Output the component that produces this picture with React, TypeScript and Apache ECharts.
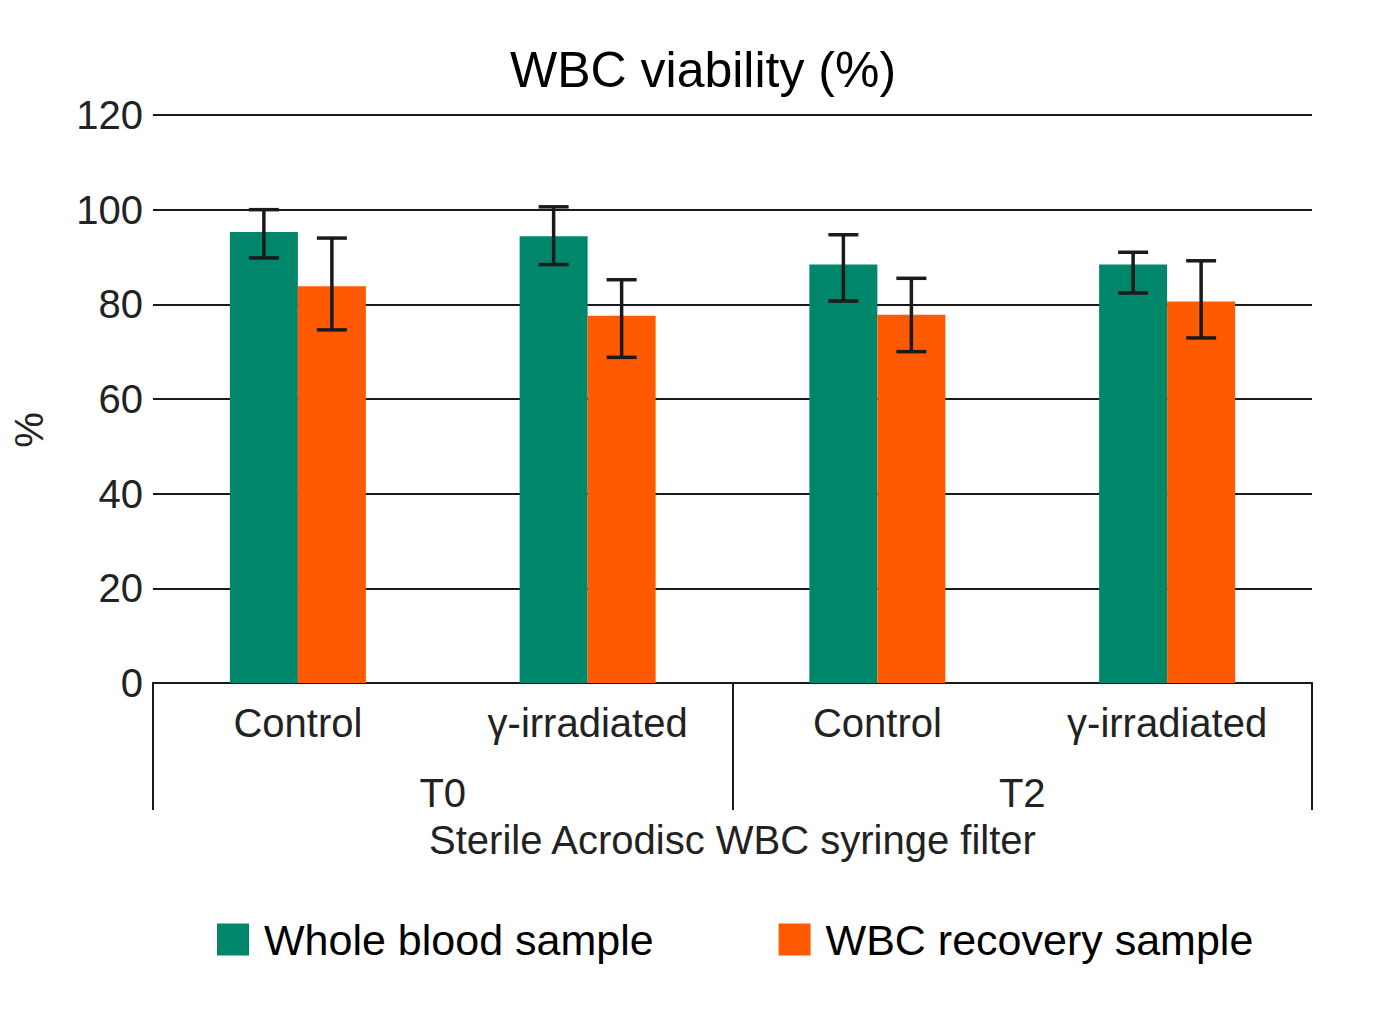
import { useEffect, useRef } from 'react';
import * as echarts from 'echarts';

const categories = ['Control', 'γ-irradiated', 'Control', 'γ-irradiated'];
const groups = ['T0', 'T2'];
const yTicks = [0, 20, 40, 60, 80, 100, 120];

const wholeBlood = [95.3, 94.4, 88.4, 88.4];
const wbcRecovery = [83.8, 77.6, 77.8, 80.6];
// error bar [low, high]
const wholeBloodErr = [[89.8, 100], [88.4, 100.6], [80.7, 94.7], [82.4, 91]];
const wbcRecoveryErr = [[74.6, 94.0], [68.8, 85.2], [70.0, 85.5], [72.9, 89.2]];

const GREEN = '#00876b';
const ORANGE = '#ff5a00';
const INK = '#1a1a1a';
const FONT = "'Liberation Sans', Arial, sans-serif";
const BAR_W = 68;

function errorSeries(errs: number[][], offset: number) {
  return {
    type: 'custom',
    xAxisIndex: 0,
    yAxisIndex: 0,
    silent: true,
    z: 10,
    data: errs.map((e, i) => [i, e[0], e[1]]),
    encode: { x: 0, y: [1, 2] },
    renderItem: (_params: any, api: any) => {
      const idx = api.value(0);
      const lo = api.coord([idx, api.value(1)]);
      const hi = api.coord([idx, api.value(2)]);
      const x = lo[0] + offset;
      const half = 15;
      const style = { stroke: INK, lineWidth: 3.5 };
      return {
        type: 'group',
        children: [
          { type: 'line', shape: { x1: x, y1: hi[1], x2: x, y2: lo[1] }, style },
          { type: 'line', shape: { x1: x - half, y1: hi[1], x2: x + half, y2: hi[1] }, style },
          { type: 'line', shape: { x1: x - half, y1: lo[1], x2: x + half, y2: lo[1] }, style },
        ],
      };
    },
  };
}

export default function App() {
  const ref = useRef<HTMLDivElement>(null);

  useEffect(() => {
    if (!ref.current) return;
    const chart = echarts.init(ref.current, undefined, { renderer: 'svg' });

    chart.setOption({
      animation: false,
      backgroundColor: '#ffffff',
      title: {
        text: 'WBC viability (%)',
        left: 505,
        top: 40,
        textStyle: { fontFamily: FONT, fontSize: 50, fontWeight: 'normal', color: '#000' },
      },
      legend: {
        left: 212,
        top: 913,
        itemWidth: 32,
        itemHeight: 32,
        itemGap: 125,
        icon: 'rect',
        data: ['Whole blood sample', 'WBC recovery sample'],
        textStyle: { fontFamily: FONT, fontSize: 43, color: '#000', padding: [0, 0, 0, 10] },
      },
      grid: {
        left: 153,
        right: 70,
        top: 115,
        bottom: 335,
        containLabel: false,
        outerBoundsMode: 'none',
      },
      xAxis: [
        {
          type: 'category',
          data: categories,
          position: 'bottom',
          axisLine: { show: true, lineStyle: { color: INK, width: 2 } },
          axisTick: { show: false },
          axisLabel: { fontFamily: FONT, fontSize: 40, color: '#222', margin: 20 },
        },
        {
          type: 'category',
          data: groups,
          position: 'bottom',
          axisLine: { show: true, lineStyle: { color: INK, width: 2 } },
          axisTick: { show: true, length: 127, lineStyle: { color: INK, width: 2 } },
          axisLabel: { fontFamily: FONT, fontSize: 40, color: '#222', margin: 90 },
          name: 'Sterile Acrodisc WBC syringe filter',
          nameLocation: 'middle',
          nameGap: 137,
          nameTextStyle: { fontFamily: FONT, fontSize: 40, color: '#222' },
        },
      ],
      yAxis: {
        type: 'value',
        min: yTicks[0],
        max: yTicks[yTicks.length - 1],
        interval: 20,
        name: '%',
        nameLocation: 'middle',
        nameGap: 104,
        nameTextStyle: { fontFamily: FONT, fontSize: 40, color: '#222', padding: [0, 62, 0, 0] },
        axisLine: { show: false },
        axisTick: { show: false },
        axisLabel: { fontFamily: FONT, fontSize: 40, color: '#222', margin: 10 },
        splitLine: { lineStyle: { color: INK, width: 2 } },
      },
      series: [
        {
          name: 'Whole blood sample',
          type: 'bar',
          xAxisIndex: 0,
          data: wholeBlood,
          barWidth: BAR_W,
          barGap: '0%',
          itemStyle: { color: GREEN },
        },
        {
          name: 'WBC recovery sample',
          type: 'bar',
          xAxisIndex: 0,
          data: wbcRecovery,
          barWidth: BAR_W,
          barGap: '0%',
          itemStyle: { color: ORANGE },
        },
        errorSeries(wholeBloodErr, -BAR_W / 2),
        errorSeries(wbcRecoveryErr, BAR_W / 2),
      ],
    });

    return () => chart.dispose();
  }, []);

  return <div ref={ref} style={{ width: 1382, height: 1018, margin: -8 }} />;
}
